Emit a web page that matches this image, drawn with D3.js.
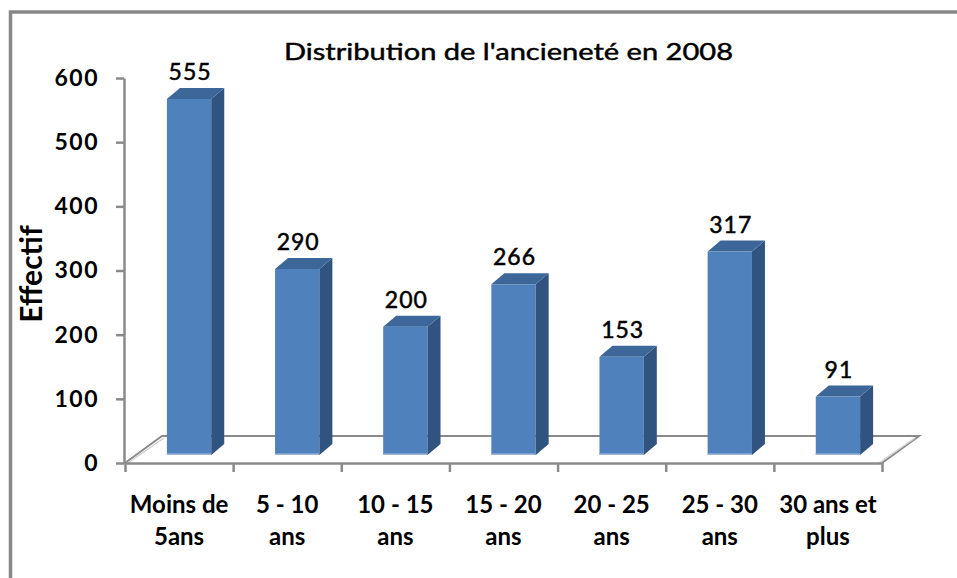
<!DOCTYPE html>
<html>
<head>
<meta charset="utf-8">
<script src="https://cdn.jsdelivr.net/npm/d3@7"></script>
<style>
    body { margin: 0; background: #fff; }
    svg { display: block; }
</style>
</head>
<body>
<svg id="chart" width="957" height="578"></svg>
<script>
const categories = ["Moins de 5ans", "5 - 10 ans", "10 - 15 ans", "15 - 20 ans", "20 - 25 ans", "25 - 30 ans", "30 ans et plus"];
const catLines = [["Moins de", "5ans"], ["5 - 10", "ans"], ["10 - 15", "ans"], ["15 - 20", "ans"], ["20 - 25", "ans"], ["25 - 30", "ans"], ["30 ans et", "plus"]];
const values = [555, 290, 200, 266, 153, 317, 91];
const yTicks = [0, 100, 200, 300, 400, 500, 600];

const FONT = "Lato, 'Open Sans', sans-serif";
const FRONT = "#4f81bd", SIDE = "#30547f", TOP = "#3d6798";

const svg = d3.select("#chart");

// outer frame (runs off the right and bottom edges)
svg.append("rect")
    .attr("x", 10.5).attr("y", 12)
    .attr("width", 1000).attr("height", 700)
    .attr("fill", "none")
    .attr("stroke", "#878787")
    .attr("stroke-width", 3.5);

const x = d3.scaleBand().domain(categories).range([125, 882]);
const xIdx = d3.scaleLinear().domain([0, categories.length]).range([125, 882]);
const y = d3.scaleLinear().domain([0, 600]).range([463, 78]);

// 3d depth: floor full depth, bars sit a bit behind the front plane
const floorDx = 37, floorDy = -27;
const barOffX = 10, barOffY = -8;
const barDx = 13, barDy = -11;
const barW = x.bandwidth() * 0.41;

// floor
const floor = svg.append("g");
floor.append("path")
    .attr("d", `M${xIdx(0)},${y(0)} L${xIdx(0) + floorDx},${y(0) + floorDy} L${xIdx(7) + floorDx},${y(0) + floorDy} L${xIdx(7)},${y(0)}`)
    .attr("fill", "none")
    .attr("stroke", "#8a8a8a")
    .attr("stroke-width", 2);
floor.append("path")
    .attr("d", `M${xIdx(0) + 3},${y(0)} L${xIdx(0) + floorDx + 2},${y(0) + floorDy + 2} M${xIdx(7) - 3},${y(0)} L${xIdx(7) + floorDx - 4},${y(0) + floorDy + 2}`)
    .attr("fill", "none")
    .attr("stroke", "#d0d0d0")
    .attr("stroke-width", 1.5);

// bars
const bars = svg.append("g")
    .selectAll("g")
    .data(values)
    .join("g");

function barX(i) {
    return x(categories[i]) + (x.bandwidth() - barW) / 2 + barOffX;
}
const base = y(0) + barOffY;

bars.append("rect")
    .attr("x", (d, i) => barX(i))
    .attr("y", d => y(d) + barOffY)
    .attr("width", barW)
    .attr("height", d => base - (y(d) + barOffY))
    .attr("fill", FRONT);

bars.append("rect")
    .attr("x", (d, i) => barX(i))
    .attr("y", base - 1.5)
    .attr("width", barW)
    .attr("height", 1.5)
    .attr("fill", "#9fb8d8");

bars.append("path")
    .attr("d", (d, i) => {
        const x1 = barX(i) + barW, t = y(d) + barOffY;
        return `M${x1},${t} L${x1 + barDx},${t + barDy} L${x1 + barDx},${base + barDy} L${x1},${base} Z`;
    })
    .attr("fill", SIDE);

bars.append("path")
    .attr("d", (d, i) => {
        const x0 = barX(i), t = y(d) + barOffY;
        return `M${x0},${t} L${x0 + barDx},${t + barDy} L${x0 + barW + barDx},${t + barDy} L${x0 + barW},${t} Z`;
    })
    .attr("fill", TOP);

bars.append("text")
    .attr("x", (d, i) => barX(i) + barW / 2 + 1)
    .attr("y", d => y(d) + barOffY + barDy - 8)
    .attr("text-anchor", "middle")
    .attr("font-family", FONT)
    .attr("font-size", 23)
    .attr("letter-spacing", 1)
    .attr("fill", "#000")
    .attr("stroke", "#000")
    .attr("stroke-width", 0.5)
    .text(d => d);

// y axis
const yAxis = svg.append("g")
    .attr("transform", `translate(${xIdx(0) - 1},0)`)
    .call(d3.axisLeft(y).tickValues(yTicks).tickSize(8).tickSizeOuter(0).tickPadding(17));
yAxis.select(".domain").attr("stroke", "#8a8a8a").attr("stroke-width", 2.5);
yAxis.selectAll(".tick line").attr("stroke", "#8a8a8a").attr("stroke-width", 2.5);
yAxis.selectAll(".tick text")
    .attr("font-family", FONT)
    .attr("font-size", 23)
    .attr("font-weight", "bold")
    .attr("letter-spacing", 1.5)
    .attr("fill", "#000");

// x axis (ticks on category boundaries)
const xAxis = svg.append("g")
    .attr("transform", `translate(0,${y(0)})`)
    .call(d3.axisBottom(xIdx).tickValues(d3.range(categories.length + 1)).tickSize(9).tickSizeOuter(0).tickFormat(""));
xAxis.select(".domain").attr("stroke", "#8a8a8a").attr("stroke-width", 2.5);
xAxis.selectAll(".tick line").attr("stroke", "#8a8a8a").attr("stroke-width", 2.5);

// category labels
svg.append("g")
    .selectAll("text")
    .data(catLines)
    .join("text")
    .attr("x", (d, i) => x(categories[i]) + x.bandwidth() / 2)
    .attr("y", 513)
    .attr("text-anchor", "middle")
    .attr("font-family", FONT)
    .attr("font-size", 24)
    .attr("font-weight", "bold")
    .attr("fill", "#000")
    .selectAll("tspan")
    .data(d => d)
    .join("tspan")
    .attr("x", function () { return d3.select(this.parentNode).attr("x"); })
    .attr("dy", (d, j) => j === 0 ? 0 : 32)
    .text(d => d);

// y axis title
svg.append("text")
    .attr("transform", "translate(42,274) rotate(-90)")
    .attr("text-anchor", "middle")
    .attr("font-family", FONT)
    .attr("font-size", 30)
    .attr("font-weight", "bold")
    .attr("fill", "#000")
    .text("Effectif");

// chart title
svg.append("text")
    .attr("x", 284)
    .attr("y", 60)
    .attr("font-family", FONT)
    .attr("font-size", 23)
    .attr("textLength", 449)
    .attr("lengthAdjust", "spacingAndGlyphs")
    .attr("fill", "#000")
    .attr("stroke", "#000")
    .attr("stroke-width", 0.45)
    .text("Distribution de l'ancieneté en 2008");
</script>
</body>
</html>
